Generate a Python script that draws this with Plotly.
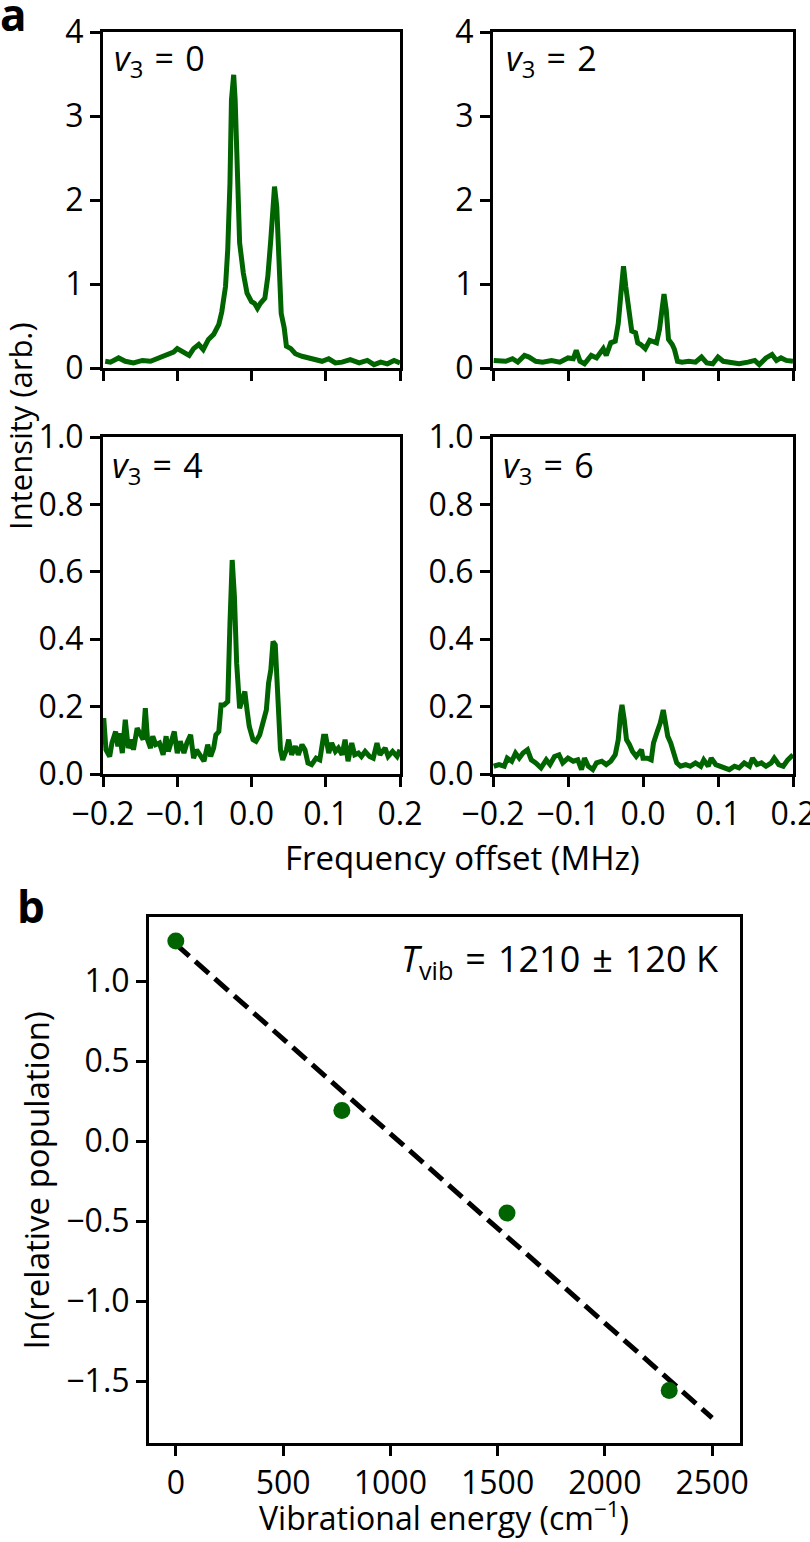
import plotly.graph_objects as go

GREEN = "#006400"
FONT = "Open Sans"

# ---- Panel a spectra (frequency offset in MHz, intensity arb.) ----
v0_x = [-0.197, -0.190, -0.179, -0.170, -0.159, -0.147, -0.136, -0.125, -0.114, -0.105, -0.100, -0.093,
        -0.084, -0.078, -0.071, -0.065, -0.058, -0.051, -0.044, -0.040, -0.035, -0.032, -0.029, -0.027,
        -0.024, -0.022, -0.019, -0.016, -0.011, -0.006, 0.000, 0.004, 0.008, 0.012, 0.018, 0.022, 0.026,
        0.029, 0.031, 0.034, 0.037, 0.040, 0.044, 0.047, 0.053, 0.059, 0.068, 0.077, 0.086, 0.095, 0.104,
        0.113, 0.122, 0.133, 0.145, 0.156, 0.165, 0.174, 0.183, 0.192, 0.200]
v0_y = [0.08, 0.07, 0.12, 0.08, 0.06, 0.09, 0.08, 0.12, 0.17, 0.19, 0.23, 0.19,
        0.15, 0.23, 0.28, 0.22, 0.34, 0.40, 0.52, 0.67, 0.97, 1.41, 2.20, 3.19,
        3.49, 3.19, 2.16, 1.49, 1.13, 0.89, 0.79, 0.77, 0.71, 0.77, 0.83, 1.09, 1.53,
        2.04, 2.16, 1.92, 1.21, 0.65, 0.48, 0.26, 0.23, 0.17, 0.14, 0.12, 0.10, 0.08, 0.11,
        0.06, 0.07, 0.10, 0.06, 0.09, 0.04, 0.07, 0.05, 0.09, 0.06]

v2_x = [-0.199, -0.192, -0.183, -0.174, -0.167, -0.158, -0.152, -0.143, -0.134, -0.122, -0.111, -0.100,
        -0.093, -0.089, -0.084, -0.078, -0.069, -0.062, -0.053, -0.049, -0.043, -0.037, -0.033, -0.029,
        -0.026, -0.023, -0.019, -0.015, -0.010, -0.007, -0.003, 0.003, 0.009, 0.014, 0.018, 0.022, 0.026,
        0.028, 0.031, 0.034, 0.039, 0.042, 0.046, 0.052, 0.061, 0.070, 0.078, 0.085, 0.093, 0.100, 0.107,
        0.117, 0.128, 0.140, 0.149, 0.155, 0.164, 0.172, 0.178, 0.184, 0.191, 0.200]
v2_y = [0.09, 0.08, 0.08, 0.11, 0.07, 0.15, 0.13, 0.08, 0.07, 0.09, 0.07, 0.12,
        0.11, 0.21, 0.08, 0.05, 0.15, 0.12, 0.23, 0.15, 0.30, 0.32, 0.53, 0.93,
        1.21, 0.97, 0.65, 0.44, 0.42, 0.30, 0.28, 0.23, 0.33, 0.32, 0.30, 0.46, 0.77,
        0.88, 0.69, 0.34, 0.28, 0.22, 0.08, 0.07, 0.08, 0.07, 0.13, 0.06, 0.05, 0.13, 0.08,
        0.07, 0.05, 0.07, 0.09, 0.04, 0.12, 0.16, 0.09, 0.12, 0.09, 0.08]

v4_x = [-0.199, -0.196, -0.191, -0.188, -0.183, -0.180, -0.178, -0.174, -0.170, -0.166, -0.162, -0.159,
        -0.154, -0.150, -0.146, -0.143, -0.140, -0.136, -0.133, -0.129, -0.124, -0.119, -0.115, -0.112,
        -0.108, -0.104, -0.100, -0.096, -0.091, -0.087, -0.082, -0.078, -0.074, -0.069, -0.064, -0.059,
        -0.055, -0.051, -0.048, -0.044, -0.041, -0.037, -0.032, -0.029, -0.026, -0.023, -0.020, -0.016,
        -0.013, -0.009, -0.006, -0.003, 0.002, 0.006, 0.011, 0.015, 0.020, 0.023, 0.026, 0.029, 0.032,
        0.035, 0.039, 0.042, 0.047, 0.050, 0.054, 0.059, 0.063, 0.068, 0.072, 0.076, 0.081, 0.087, 0.092,
        0.097, 0.100, 0.104, 0.108, 0.113, 0.117, 0.122, 0.126, 0.130, 0.135, 0.139, 0.144, 0.148, 0.153,
        0.159, 0.164, 0.169, 0.173, 0.180, 0.184, 0.190, 0.196, 0.200]
v4_y = [0.166, 0.072, 0.052, 0.092, 0.126, 0.082, 0.121, 0.062, 0.161, 0.077, 0.102, 0.072,
        0.136, 0.121, 0.102, 0.195, 0.102, 0.077, 0.112, 0.087, 0.092, 0.057, 0.112, 0.067,
        0.092, 0.126, 0.062, 0.097, 0.062, 0.092, 0.116, 0.047, 0.072, 0.057, 0.038, 0.087,
        0.052, 0.077, 0.116, 0.126, 0.205, 0.205, 0.215, 0.447, 0.635, 0.526, 0.329, 0.195,
        0.220, 0.245, 0.190, 0.141, 0.102, 0.097, 0.116, 0.151, 0.190, 0.270, 0.309, 0.393, 0.383,
        0.250, 0.072, 0.042, 0.072, 0.102, 0.057, 0.082, 0.057, 0.087, 0.072, 0.033, 0.028, 0.047, 0.042,
        0.112, 0.112, 0.062, 0.092, 0.067, 0.077, 0.057, 0.102, 0.038, 0.092, 0.057, 0.062, 0.052, 0.067,
        0.052, 0.047, 0.092, 0.057, 0.077, 0.052, 0.067, 0.052, 0.072]

v6_x = [-0.199, -0.192, -0.185, -0.181, -0.175, -0.170, -0.165, -0.160, -0.154, -0.149, -0.143, -0.136,
        -0.129, -0.124, -0.118, -0.112, -0.107, -0.100, -0.093, -0.087, -0.082, -0.078, -0.073, -0.067,
        -0.062, -0.055, -0.049, -0.043, -0.037, -0.033, -0.030, -0.028, -0.025, -0.022, -0.018, -0.014,
        -0.009, -0.005, -0.002, 0.000, 0.006, 0.011, 0.014, 0.019, 0.023, 0.027, 0.030, 0.033, 0.037,
        0.041, 0.045, 0.050, 0.057, 0.063, 0.070, 0.077, 0.081, 0.087, 0.091, 0.097, 0.103, 0.108, 0.115,
        0.122, 0.128, 0.135, 0.142, 0.146, 0.152, 0.158, 0.164, 0.171, 0.175, 0.181, 0.187, 0.193, 0.200]
v6_y = [0.023, 0.028, 0.023, 0.047, 0.038, 0.062, 0.047, 0.062, 0.072, 0.042, 0.033, 0.018,
        0.042, 0.028, 0.052, 0.057, 0.033, 0.047, 0.038, 0.042, 0.013, 0.047, 0.023, 0.013,
        0.033, 0.038, 0.028, 0.038, 0.057, 0.102, 0.176, 0.205, 0.161, 0.102, 0.087, 0.067,
        0.052, 0.062, 0.072, 0.047, 0.047, 0.042, 0.092, 0.126, 0.151, 0.190, 0.156, 0.112, 0.092,
        0.062, 0.033, 0.023, 0.028, 0.023, 0.033, 0.023, 0.042, 0.023, 0.047, 0.028, 0.023, 0.018, 0.013,
        0.023, 0.018, 0.033, 0.023, 0.047, 0.028, 0.033, 0.023, 0.033, 0.047, 0.028, 0.023, 0.042, 0.057]

SP = "\u2004"
panel_labels = [f"<i>v</i><sub>3</sub>{SP}={SP}0", f"<i>v</i><sub>3</sub>{SP}={SP}2",
                f"<i>v</i><sub>3</sub>{SP}={SP}4", f"<i>v</i><sub>3</sub>{SP}={SP}6"]

# ---- Panel b ----
vib_energy = [0, 774, 1544, 2300]
ln_pop = [1.25, 0.19, -0.45, -1.56]
fit_x = [0, 2500]
fit_y = [1.23, -1.73]
x_ticks_b = [0, 500, 1000, 1500, 2000, 2500]

W, H = 810, 1542

def px(x):
    return x / W

def py(y):
    return 1 - y / H

fig = go.Figure()

spectra = [(v0_x, v0_y), (v2_x, v2_y), (v4_x, v4_y), (v6_x, v6_y)]
for i, (xs, ys) in enumerate(spectra):
    ax = "" if i == 0 else str(i + 1)
    fig.add_trace(go.Scatter(x=xs, y=ys, mode="lines", line=dict(color=GREEN, width=5),
                             xaxis="x" + ax, yaxis="y" + ax, showlegend=False))

fig.add_trace(go.Scatter(x=fit_x, y=fit_y, mode="lines",
                         line=dict(color="black", width=5, dash="18px,8px"),
                         xaxis="x5", yaxis="y5", showlegend=False))
fig.add_trace(go.Scatter(x=vib_energy, y=ln_pop, mode="markers",
                         marker=dict(color=GREEN, size=17),
                         xaxis="x5", yaxis="y5", showlegend=False))

axcommon = dict(showline=True, linecolor="black", linewidth=3, mirror=True,
                ticks="outside", ticklen=10, tickwidth=3, tickcolor="black",
                showgrid=False, zeroline=False, automargin=False,
                ticklabeloverflow="allow",
                tickfont=dict(family=FONT, size=32, color="black"))

xl = [px(103), px(400)]
xr = [px(493), px(793)]
yt = [py(368), py(32)]
yb = [py(774), py(437)]

layout = dict(
    width=W, height=H, margin=dict(l=0, r=0, t=0, b=0, autoexpand=False),
    paper_bgcolor="white", plot_bgcolor="white",
    font=dict(family=FONT, size=32, color="black"),
)
fx = dict(range=[-0.2, 0.2], tickvals=[-0.2, -0.1, 0.0, 0.1, 0.2], tickformat=".1f")
layout["xaxis"] = dict(domain=xl, anchor="y", showticklabels=False, **fx, **axcommon)
layout["yaxis"] = dict(domain=yt, anchor="x", range=[0, 4], tickvals=[0, 1, 2, 3, 4], **axcommon)
layout["xaxis2"] = dict(domain=xr, anchor="y2", showticklabels=False, **fx, **axcommon)
layout["yaxis2"] = dict(domain=yt, anchor="x2", range=[0, 4], tickvals=[0, 1, 2, 3, 4], **axcommon)
layout["xaxis3"] = dict(domain=xl, anchor="y3", **fx, **axcommon)
layout["yaxis3"] = dict(domain=yb, anchor="x3", range=[0, 1], tickvals=[0, 0.2, 0.4, 0.6, 0.8, 1.0],
                        tickformat=".1f", **axcommon)
layout["xaxis4"] = dict(domain=xr, anchor="y4", **fx, **axcommon)
layout["yaxis4"] = dict(domain=yb, anchor="x4", range=[0, 1], tickvals=[0, 0.2, 0.4, 0.6, 0.8, 1.0],
                        tickformat=".1f", **axcommon)
layout["xaxis5"] = dict(domain=[px(149), px(740)], anchor="y5", range=[-125, 2630],
                        tickvals=x_ticks_b, **axcommon)
layout["yaxis5"] = dict(domain=[py(1443), py(917)], anchor="x5", range=[-1.8875, 1.4],
                        tickvals=[-1.5, -1.0, -0.5, 0.0, 0.5, 1.0], tickformat=".1f", **axcommon)
fig.update_layout(**layout)

def ann(text, x, y, size=32, xanchor="center", yanchor="middle", angle=0):
    fig.add_annotation(text=text, x=px(x), y=py(y), xref="paper", yref="paper",
                       xanchor=xanchor, yanchor=yanchor, showarrow=False, textangle=angle,
                       font=dict(family=FONT, size=size, color="black"))

ann("<b>a</b>", 14, 14, size=44)
ann("<b>b</b>", 31, 906, size=44)
ann(panel_labels[0], 112, 60, size=34, xanchor="left")
ann(panel_labels[1], 504, 60, size=34, xanchor="left")
ann(panel_labels[2], 110, 467, size=34, xanchor="left")
ann(panel_labels[3], 501, 467, size=34, xanchor="left")
ann("Intensity (arb.)", 20, 426, size=31, angle=-90)
ann("Frequency offset (MHz)", 462, 857, size=33)
ann(f"<i>T</i><sub>vib</sub>{SP}={SP}1210{SP}±{SP}120 K", 721, 960, size=36, xanchor="right")
ann("ln(relative population)", 36, 1180, size=33, angle=-90)
ann("Vibrational energy (cm<sup>−1</sup>)", 444, 1541, size=32, yanchor="bottom")

fig.write_html("out.html")
